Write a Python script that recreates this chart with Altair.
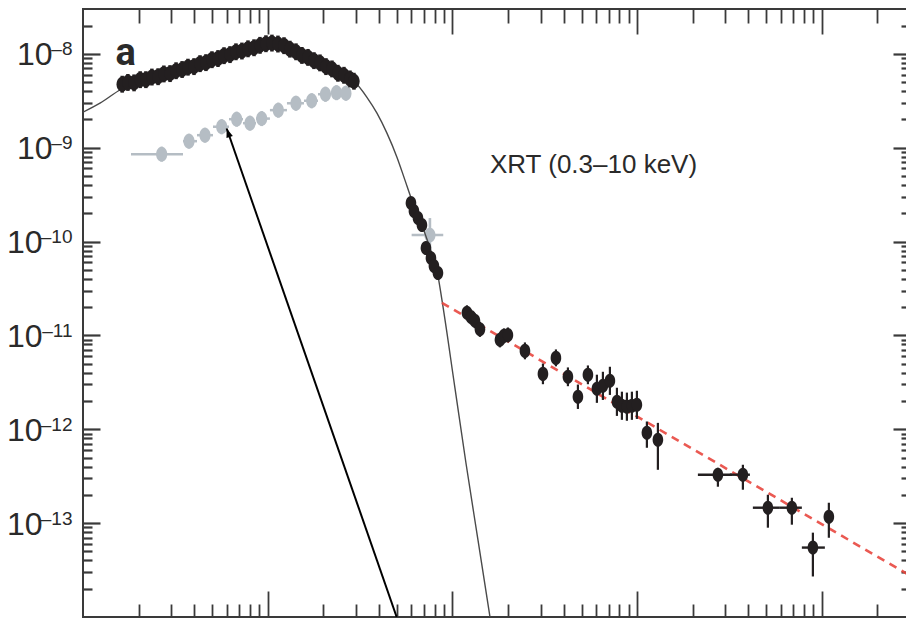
import altair as alt
import numpy as np
import pandas as pd

# Swift/XRT 0.3–10 keV light curve: time since trigger (s) vs. flux (erg cm^-2 s^-1)

# best-fit model curve (thin line)
model_t = [100, 123.6, 160.6, 203.5, 261.1, 347.8, 486.8, 648.5, 853.1, 1028,
           1240, 1495, 1802, 2173, 2619, 2967, 3445, 3903, 4420, 5007,
           5533, 6113, 6672, 7553, 8244, 8773, 10315, 11830, 13740, 15960]
model_f = [2.385e-9, 2.974e-9, 4.19e-9, 5.22e-9, 5.83e-9, 6.84e-9, 8.32e-9, 1.012e-8, 1.173e-8, 1.278e-8,
           1.173e-8, 9.88e-9, 8.32e-9, 7.01e-9, 5.76e-9, 4.97e-9, 3.44e-9, 2.33e-9, 1.427e-9, 7.92e-10,
           4.51e-10, 2.57e-10, 1.693e-10, 8.53e-11, 4.97e-11, 2.385e-11, 2.76e-12, 4.40e-13, 6.67e-14, 1.01e-14]

# early, densely sampled XRT flux
band_t = [163, 175, 189, 204, 219, 236, 255, 274, 296, 319,
          344, 370, 399, 430, 463, 499, 538, 580, 625, 673,
          725, 782, 843, 908, 978, 1054, 1136, 1225, 1319, 1422,
          1532, 1652, 1780, 1918, 2067, 2228, 2400, 2587, 2788, 2930]
band_f = [4.74e-9, 4.95e-9, 4.90e-9, 5.30e-9, 5.30e-9, 5.65e-9, 5.70e-9, 6.10e-9, 6.15e-9, 6.60e-9,
          6.80e-9, 7.20e-9, 7.30e-9, 7.85e-9, 8.05e-9, 8.65e-9, 8.90e-9, 9.55e-9, 9.80e-9, 1.05e-8,
          1.07e-8, 1.13e-8, 1.16e-8, 1.23e-8, 1.28e-8, 1.30e-8, 1.27e-8, 1.22e-8, 1.12e-8, 1.05e-8,
          9.60e-9, 9.15e-9, 8.45e-9, 8.00e-9, 7.30e-9, 6.90e-9, 6.20e-9, 5.90e-9, 5.40e-9, 5.10e-9]
band_err_dex = 0.09

# later XRT flux (steep decay and power-law tail)
late_t = [5963, 6189, 6507, 6838, 7189, 7649, 7941, 8348,
          11980, 12600, 13240, 14090, 18080, 19000, 19970,
          24690, 30900, 36330, 42190, 47790, 54130,
          60540, 65250, 71200, 77720, 82700, 88000, 93670, 99680,
          112900, 129500, 273600, 373600, 510200, 688000, 894000, 1091000]
late_f = [2.57e-10, 2.11e-10, 1.78e-10, 1.50e-10, 8.53e-11, 6.68e-11, 5.49e-11, 4.62e-11,
          1.74e-11, 1.57e-11, 1.43e-11, 1.16e-11, 8.96e-12, 9.88e-12, 1.01e-11,
          6.84e-12, 3.89e-12, 5.76e-12, 3.62e-12, 2.22e-12, 3.80e-12,
          2.70e-12, 2.90e-12, 3.28e-12, 1.96e-12, 1.78e-12, 1.74e-12, 1.78e-12, 1.82e-12,
          9.18e-13, 7.73e-13, 3.28e-13, 3.28e-13, 1.46e-13, 1.46e-13, 5.49e-14, 1.17e-13]
late_up_dex = [0.06, 0.06, 0.06, 0.06, 0.07, 0.07, 0.07, 0.07,
               0.08, 0.08, 0.08, 0.08, 0.08, 0.08, 0.08,
               0.09, 0.11, 0.09, 0.10, 0.13, 0.10,
               0.15, 0.15, 0.15, 0.15, 0.15, 0.15, 0.15, 0.15,
               0.12, 0.18, 0.074, 0.106, 0.138, 0.106, 0.159, 0.149]
late_dn_dex = [0.06, 0.06, 0.06, 0.06, 0.07, 0.07, 0.07, 0.07,
               0.08, 0.08, 0.08, 0.08, 0.08, 0.08, 0.08,
               0.09, 0.11, 0.09, 0.10, 0.13, 0.10,
               0.15, 0.15, 0.15, 0.15, 0.15, 0.15, 0.15, 0.15,
               0.16, 0.32, 0.128, 0.160, 0.213, 0.181, 0.308, 0.224]
# time bins of the last, wide-binned points
late_bin_f = [3.28e-13, 3.28e-13, 1.46e-13, 1.46e-13, 5.49e-14]
late_bin_lo = [213200, 317700, 423100, 592500, 779200]
late_bin_hi = [325700, 407700, 592500, 779200, 1038000]

# grey series with its time bins
gray_t = [266.6, 374.8, 457.5, 563.3, 679, 801.5, 927.5, 1141, 1422, 1730, 2054, 2356, 2651, 7553]
gray_f = [8.53e-10, 1.172e-9, 1.358e-9, 1.671e-9, 2.01e-9, 1.823e-9, 2.04e-9, 2.51e-9,
          2.97e-9, 3.16e-9, 3.71e-9, 3.85e-9, 3.80e-9, 1.172e-10]
gray_tlo = [181.9, 347.8, 414.1, 505.4, 617, 734.6, 864, 1028, 1271, 1571, 1871, 2200, 2492, 6014]
gray_thi = [347.8, 414.1, 505.4, 617, 734.6, 864, 1028, 1271, 1571, 1871, 2200, 2492, 2822, 8918]
gray_up_dex = [0.08] * 13 + [0.181]
gray_dn_dex = [0.08] * 13 + [0.191]

# power-law decay (red dashed)
pl_t = [8773, 3.0e6]
pl_f = [2.22e-11, 2.76e-14]

# arrow: tip and tail
arrow_t = [599.7, 4990]
arrow_f = [1.60e-9, 1.0e-14]

# axis ticks
x_major = [1e3, 1e4, 1e5, 1e6]
x_minor = [k * 10.0 ** e for e in range(2, 6) for k in range(2, 10)] + [2e6]
y_major = [1e-8, 1e-9, 1e-10, 1e-11, 1e-12, 1e-13]
y_base = "10"
y_exponent = ["–8", "–9", "–10", "–11", "–12", "–13"]
y_minor = [k * 10.0 ** e for e in range(-14, -8) for k in range(2, 10)] + [2e-8]

# annotations
note_text = ["a", "XRT (0.3–10 keV)"]
note_t = [150.0, 15960]
note_f = [7.55e-9, 5.40e-10]

# ---------------------------------------------------------------------------
W, H = 827, 608
FRAME = "#3a3a3a"
INK = "#2a2a2a"
BLACK = "#231f20"
GREY = "#b5bdc4"
RED = "#e8473f"
FONT = "Liberation Sans"
X_SCALE = alt.Scale(type="log", domain=[100, 3e6], nice=False)
Y_SCALE = alt.Scale(type="log", domain=[1e-14, 3e-8], nice=False)

ELLIPSE = "M0,-1A0.75,1,0,1,1,0,1A0.75,1,0,1,1,0,-1Z"
ARROWHEAD = "M0,0L-0.45,1.2L0.45,1.2Z"


def tick_axis(orient, values, size, width):
    """Inward-pointing ticks: the axis is moved onto the opposite edge."""
    off = -H if orient in ("top", "bottom") else -W
    return alt.Axis(orient=orient, offset=off, values=values, tickSize=size,
                    tickWidth=width, tickColor=FRAME, labels=False, domain=False,
                    grid=False, title="")


def label_axis(values, expr, size, padding, offset):
    """Left-side text-only axis, used for the base and the exponent of the labels."""
    return alt.Axis(orient="left", values=values, labelExpr=expr, ticks=False,
                    tickSize=0, domain=False, grid=False, title="", labelFont=FONT,
                    labelFontSize=size, labelColor=INK, labelPadding=padding,
                    labelOffset=offset, labelOverlap=False, labelBaseline="middle",
                    labelAlign="right")


exp_expr = ""
for v, lab in zip(y_major[:-1], y_exponent[:-1]):
    exp_expr += f"datum.value > {v / 3:.3e} ? '{lab}' : "
exp_expr += f"'{y_exponent[-1]}'"

one_digit = [v for v, e in zip(y_major, y_exponent) if len(e) == 2]
two_digit = [v for v, e in zip(y_major, y_exponent) if len(e) == 3]
base_axis_1 = label_axis(one_digit, f"'{y_base}'", 32, 31, 1)
base_axis_2 = label_axis(two_digit, f"'{y_base}'", 32, 41, 1)
exp_axis = label_axis(y_major, exp_expr, 19, 11, -5)

model_df = pd.DataFrame({"t": model_t, "f": model_f})

band_df = pd.DataFrame({"t": band_t, "f": band_f})
band_df["lo"] = band_df["f"] / 10 ** band_err_dex
band_df["hi"] = band_df["f"] * 10 ** band_err_dex

late_df = pd.DataFrame({"t": late_t, "f": late_f})
late_df["lo"] = late_df["f"] / 10 ** np.array(late_dn_dex)
late_df["hi"] = late_df["f"] * 10 ** np.array(late_up_dex)
late_bin_df = pd.DataFrame({"f": late_bin_f, "tlo": late_bin_lo, "thi": late_bin_hi})

gray_df = pd.DataFrame({"t": gray_t, "f": gray_f, "tlo": gray_tlo, "thi": gray_thi})
gray_df["lo"] = gray_df["f"] / 10 ** np.array(gray_dn_dex)
gray_df["hi"] = gray_df["f"] * 10 ** np.array(gray_up_dex)

pl_df = pd.DataFrame({"t": pl_t, "f": pl_f})
arrow_df = pd.DataFrame({"t": [arrow_t[0]], "f": [arrow_f[0]],
                         "t2": [arrow_t[1]], "f2": [arrow_f[1]]})
note_df = pd.DataFrame({"t": note_t, "f": note_f, "txt": note_text})


def X(field, axis=None):
    return alt.X(f"{field}:Q", scale=X_SCALE, axis=axis)


def Y(field, axis=None):
    return alt.Y(f"{field}:Q", scale=Y_SCALE, axis=axis)


# grey series
gray_v = alt.Chart(gray_df).mark_rule(color=GREY, strokeWidth=2.6).encode(
    x=X("t", tick_axis("bottom", x_major, 25, 1.8)),
    y=Y("lo", tick_axis("right", y_minor, 9, 2.2)),
    y2="hi:Q",
)
gray_h = alt.Chart(gray_df).mark_rule(color=GREY, strokeWidth=2.5).encode(
    x=X("tlo", tick_axis("bottom", x_minor, 14, 1.8)),
    x2="thi:Q",
    y=Y("f", tick_axis("left", y_major, 17, 2.2)),
)
gray_pts = alt.Chart(gray_df).mark_point(
    shape=ELLIPSE, filled=True, color=GREY, opacity=1, size=220
).encode(
    x=X("t"),
    y=Y("f", tick_axis("left", y_minor, 9, 2.2)),
)

# model curve and power-law
model = alt.Chart(model_df).mark_line(
    color="#4a4a4a", strokeWidth=1.4, interpolate="monotone", clip=True
).encode(
    x=X("t", tick_axis("top", x_major, 26, 1.8)),
    y=Y("f", exp_axis),
)
powerlaw = alt.Chart(pl_df).mark_line(
    color=RED, strokeWidth=2.6, strokeDash=[8, 6], opacity=0.9, clip=True
).encode(
    x=X("t", tick_axis("top", x_minor, 13, 1.8)),
    y=Y("f", tick_axis("right", y_major, 17, 2.2)),
)

# black XRT points
band_err = alt.Chart(band_df).mark_rule(color=BLACK, strokeWidth=3.5).encode(
    x=X("t"), y=Y("lo", base_axis_1), y2="hi:Q"
)
band_pts = alt.Chart(band_df).mark_point(
    shape=ELLIPSE, filled=True, color=BLACK, opacity=1, size=230
).encode(x=X("t"), y=Y("f", base_axis_2))

late_err = alt.Chart(late_df).mark_rule(color=BLACK, strokeWidth=2.2).encode(
    x=X("t"), y=Y("lo"), y2="hi:Q"
)
late_bins = alt.Chart(late_bin_df).mark_rule(color=BLACK, strokeWidth=2.4).encode(
    x=X("tlo"), x2="thi:Q", y=Y("f")
)
late_pts = alt.Chart(late_df).mark_point(
    shape=ELLIPSE, filled=True, color=BLACK, opacity=1, size=200
).encode(x=X("t"), y=Y("f"))

# arrow
arrow_line = alt.Chart(arrow_df).mark_rule(color="black", strokeWidth=2, clip=True).encode(
    x=X("t"), y=Y("f"), x2="t2:Q", y2="f2:Q"
)
arrow_head = alt.Chart(arrow_df).mark_point(
    shape=ARROWHEAD, filled=True, color="black", opacity=1, size=225, angle=340.8
).encode(x=X("t"), y=Y("f"))

# annotations
panel_letter = alt.Chart(note_df.iloc[[0]]).mark_text(
    align="left", baseline="alphabetic", font="Roboto", fontSize=38,
    fontWeight="bold", color=INK
).encode(x=X("t"), y=Y("f"), text="txt:N")
instrument = alt.Chart(note_df.iloc[[1]]).mark_text(
    align="left", baseline="alphabetic", font=FONT, fontSize=26, color=INK
).encode(x=X("t"), y=Y("f"), text="txt:N")

chart = alt.layer(
    gray_v, gray_h, gray_pts, model, powerlaw,
    band_err, band_pts, late_err, late_bins, late_pts,
    arrow_line, arrow_head, panel_letter, instrument,
).resolve_axis(
    x="independent", y="independent"
).properties(
    width=W, height=H,
    autosize=alt.AutoSizeParams(type="none"),
    padding={"left": 83, "top": 9, "right": -4, "bottom": 1},
    background="white",
).configure_view(
    stroke=FRAME, strokeWidth=2
)

chart.save("out.html", embed_options={"renderer": "svg", "actions": False})
